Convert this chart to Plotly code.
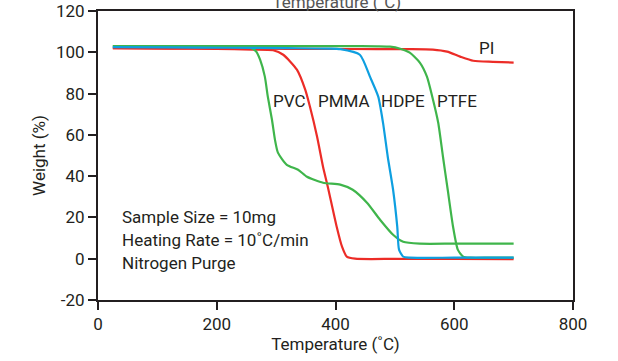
import plotly.graph_objects as go

# Data (temperature °C, weight %)
pvc_t = [25, 120, 200, 240, 256, 266, 273, 281, 286, 293, 298, 303, 318, 337, 352, 379, 408, 429, 453, 475, 497, 514, 542, 600, 700]
pvc_w = [103, 103, 102.8, 102.6, 102.2, 100.5, 96.4, 88.2, 78.5, 67.3, 57.7, 51.4, 45.5, 43.1, 39.7, 36.8, 35.9, 33.4, 27.1, 18.9, 11.6, 8.2, 7.3, 7.3, 7.3]

pmma_t = [25, 120, 200, 260, 295, 312, 335, 349, 357, 369, 379, 387, 402, 411, 419, 433, 500, 600, 700]
pmma_w = [102, 101.8, 101.6, 101.3, 101, 98.8, 91.6, 81.9, 73.6, 59.1, 44.6, 34.9, 15.5, 5.8, 1.0, 0.0, -0.1, -0.15, -0.2]

hdpe_t = [25, 120, 220, 320, 390, 408, 441, 458, 472, 480, 488, 497, 504, 507, 514, 525, 600, 700]
hdpe_w = [102.5, 102.4, 102.2, 102, 101.8, 101.5, 98.8, 88.2, 78.5, 65.9, 49.4, 33.4, 15.5, 4.4, 1.0, 0.5, 0.5, 0.5]

ptfe_t = [25, 120, 220, 320, 420, 470, 492, 509, 525, 542, 554, 563, 573, 581, 589, 598, 606, 615, 627, 660, 700]
ptfe_w = [103, 103, 103, 103, 103, 102.9, 102.7, 101.7, 99.8, 95.0, 88.2, 78.5, 65.9, 49.4, 33.4, 15.5, 4.4, 1.0, 0.5, 0.5, 0.5]

pi_t = [25, 120, 220, 320, 420, 520, 564, 588, 610, 632, 665, 700]
pi_w = [102, 101.9, 101.8, 101.7, 101.6, 101.5, 101.3, 100.3, 97.9, 95.9, 95.4, 95.0]

labels = ["PVC", "PMMA", "HDPE", "PTFE", "PI"]
label_t = [322, 414, 514, 605, 654]
label_w = [76.5, 76.5, 76.5, 76.5, 102]

note_lines = ["Sample Size = 10mg", "Heating Rate = 10˚C/min", "Nitrogen Purge"]
note_t = 37
note_w = [20.3, 9.0, -2.3]

x_ticks = [0, 200, 400, 600, 800]
y_ticks = [-20, 0, 20, 40, 60, 80, 100, 120]
y_tick_text = ["-20", "0", "20", "40", "60", "80", "100", "120"]

RED = "#ec2c27"
GREEN = "#3fb54b"
BLUE = "#0e9fe0"
INK = "#231f20"
FONT = "Roboto, Liberation Sans, sans-serif"

fig = go.Figure()
series = [
    (pi_t, pi_w, RED),
    (pmma_t, pmma_w, RED),
    (pvc_t, pvc_w, GREEN),
    (ptfe_t, ptfe_w, GREEN),
    (hdpe_t, hdpe_w, BLUE),
]
for t, w, c in series:
    fig.add_trace(go.Scatter(x=t, y=w, mode="lines",
                             line=dict(color=c, width=2.2, shape="spline", smoothing=0.6),
                             showlegend=False, hoverinfo="skip"))

for lab, t, w in zip(labels, label_t, label_w):
    fig.add_annotation(x=t, y=w, text=lab, showarrow=False,
                       font=dict(family=FONT, size=17, color=INK))

for line, w in zip(note_lines, note_w):
    fig.add_annotation(x=note_t, y=w, xref="x", yref="y", xanchor="left", yanchor="middle",
                       showarrow=False, text=line,
                       font=dict(family=FONT, size=17, color=INK))

fig.update_layout(
    width=618, height=361,
    margin=dict(l=98, r=45, t=11, b=61),
    paper_bgcolor="white", plot_bgcolor="white",
    font=dict(family=FONT, size=17, color=INK),
    # duplicate title clipped at the very top edge, as in the reference
    title=dict(text="Temperature (˚C)", x=0.545, xanchor="center", y=0.993,
               yanchor="middle", font=dict(family=FONT, size=17, color="#555555")),
    xaxis=dict(range=[0, 800], tickvals=x_ticks, showgrid=False, zeroline=False,
               showline=True, linecolor=INK, linewidth=2, mirror=True, automargin=False,
               ticks="outside", ticklen=8, tickwidth=2, tickcolor=INK,
               title=dict(text="Temperature (˚C)", standoff=4,
                          font=dict(family=FONT, size=17, color=INK))),
    yaxis=dict(range=[-20, 120], tickvals=y_ticks, ticktext=y_tick_text,
               showgrid=False, zeroline=False,
               showline=True, linecolor=INK, linewidth=2, mirror=True, automargin=False,
               ticks="outside", ticklen=8, tickwidth=2, tickcolor=INK,
               title=dict(text="Weight (%)", standoff=6,
                          font=dict(family=FONT, size=17, color=INK))),
)

fig.write_html("out.html", config={"displayModeBar": False},
               post_script="document.body.style.margin='0';document.body.style.overflow='hidden';")
